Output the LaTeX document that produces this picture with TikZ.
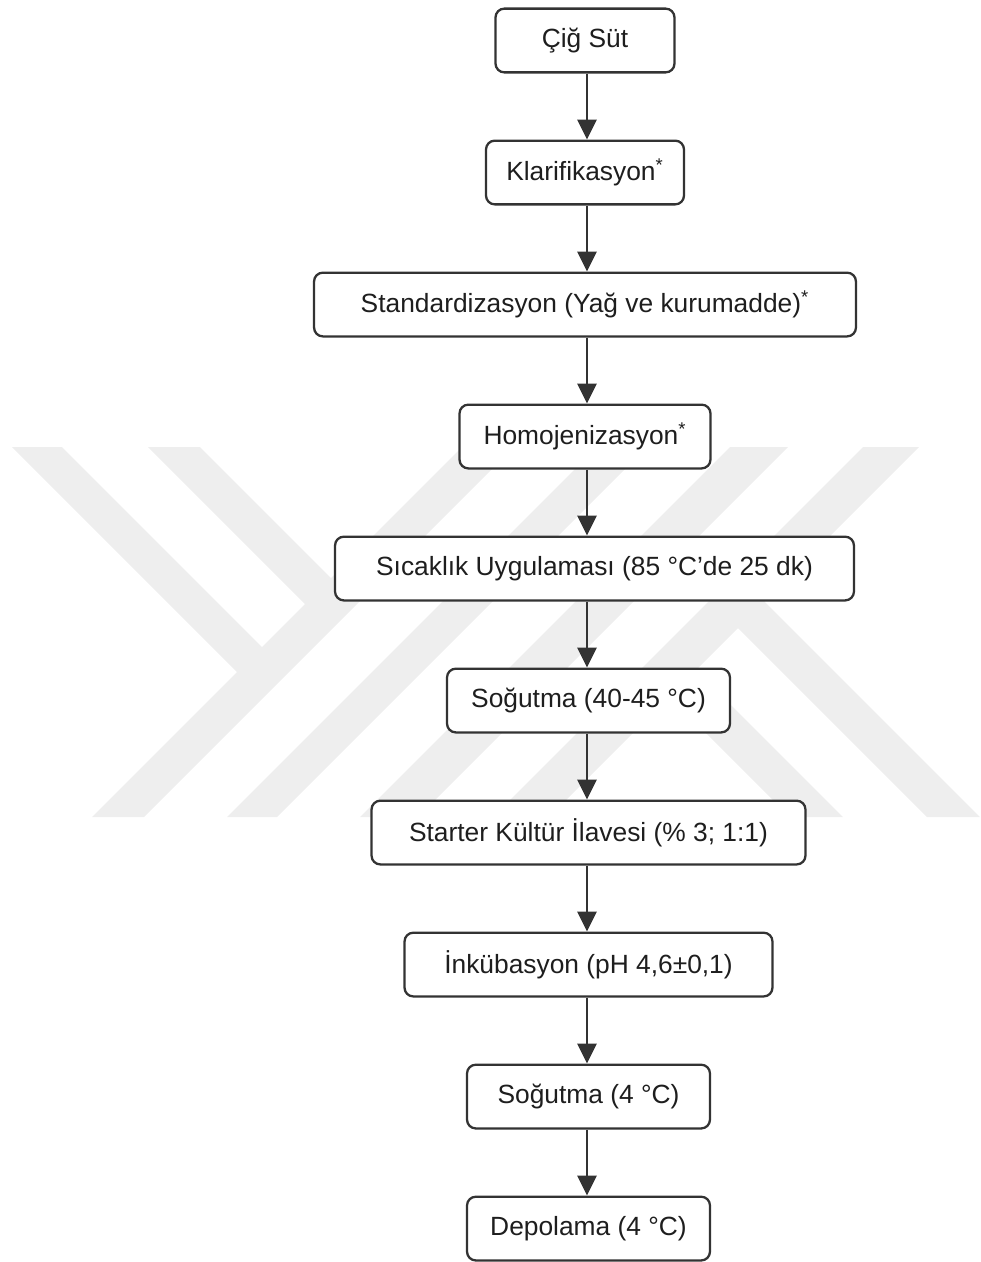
\documentclass[tikz,border=0pt]{standalone}
\usepackage{fontspec}
\setmainfont{Liberation Sans}
\usepackage{xcolor}
\usetikzlibrary{positioning, arrows.meta}
\definecolor{boxline}{HTML}{333333}
\definecolor{wmark}{HTML}{EEEEEE}
\definecolor{txt}{HTML}{1E1E1E}

\begin{document}
\begin{tikzpicture}[
        x=0.02cm, y=-0.02cm,
        node distance=13.2mm,
        stage/.style = {draw=boxline, line width=1.3pt, fill=white, rounded corners=5pt, minimum height=12.75mm, inner xsep=2mm, text=txt, font=\fontsize{15}{18}\selectfont},
        flowarrow/.style = {-{Triangle[width=3.8mm, length=4mm]}, line width=1.6pt, draw=boxline},
    ]
    \useasboundingbox (0,0) rectangle (981,1262);

    % watermark in the background
    \fill[wmark] (462,447) -- (514,447) -- (144,817) -- (92,817) -- cycle;
    \fill[wmark] (12,447) -- (62,447) -- (275,660) -- (250,685) -- cycle;
    \fill[wmark] (148,447) -- (200,447) -- (344,591) -- (318,617) -- cycle;
    \fill[wmark] (597,447) -- (647,447) -- (277,817) -- (227,817) -- cycle;
    \fill[wmark] (730,447) -- (788,447) -- (418,817) -- (360,817) -- cycle;
    \fill[wmark] (863,447) -- (919,447) -- (549,817) -- (493,817) -- cycle;
    \fill[wmark] (790,817) -- (843,817) -- (682,656) -- (655.5,682.5) -- cycle;
    \fill[wmark] (927,817) -- (980,817) -- (750.5,587.5) -- (724,614) -- cycle;

    \node[stage, minimum width=35.8mm] (cig) at (585,40.5) {Çiğ Süt};
    \node[stage, minimum width=39.6mm, below=of cig] (klar) {Klarifikasyon\textsuperscript{*}};
    \node[stage, minimum width=108.4mm, below=of klar] (std) {Standardizasyon (Yağ ve kurumadde)\textsuperscript{*}};
    \node[stage, minimum width=50.2mm, below=of std] (homo) {Homojenizasyon\textsuperscript{*}};
    \node[stage, minimum width=103.8mm, below=of homo, xshift=1.9mm] (isil) {Sıcaklık Uygulaması (85 °C'de 25 dk)};
    \node[stage, minimum width=56.6mm, below=of isil, xshift=-1.2mm] (sogA) {Soğutma (40-45 °C)};
    \node[stage, minimum width=86.8mm, below=of sogA] (starter) {Starter Kültür İlavesi (\% 3; 1:1)};
    \node[stage, minimum width=73.6mm, below=of starter] (ink) {İnkübasyon (pH 4,6±0,1)};
    \node[stage, minimum width=48.6mm, below=of ink] (sogB) {Soğutma (4 °C)};
    \node[stage, minimum width=48.6mm, below=of sogB] (depo) {Depolama (4 °C)};

    \coordinate (axis) at (587,0);
    \foreach \a/\b in {cig/klar, klar/std, std/homo, homo/isil, isil/sogA, sogA/starter, starter/ink, ink/sogB, sogB/depo}
        \draw[flowarrow] (\a.south -| axis) -- (\b.north -| axis);
\end{tikzpicture}
\end{document}
